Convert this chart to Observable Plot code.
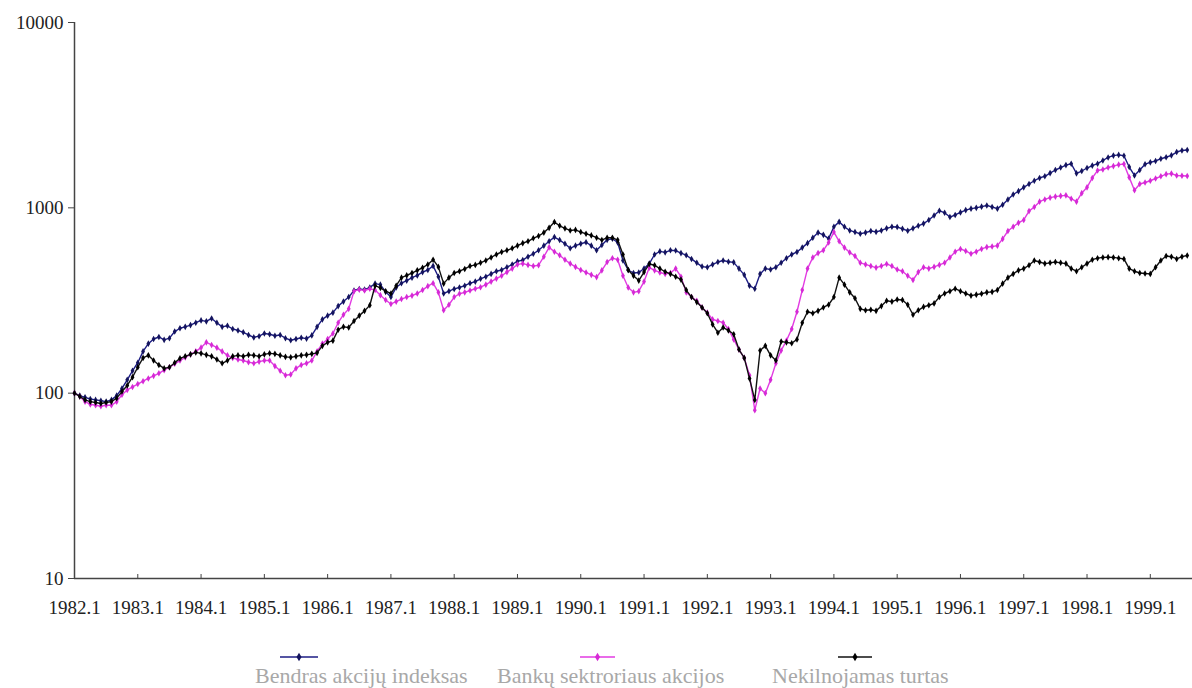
<!DOCTYPE html>
<html><head><meta charset="utf-8">
<script src="https://cdn.jsdelivr.net/npm/d3@7"></script>
<script src="https://cdn.jsdelivr.net/npm/@observablehq/plot@0.6"></script>
<style>
body{margin:0;background:#fff;}
#wrap{position:relative;width:1192px;height:688px;font-family:"Liberation Serif","Times New Roman",serif;overflow:hidden;}
#legend{position:absolute;left:0;top:630px;}
</style></head><body><div id="wrap"><div id="chart"></div><div id="legend"></div></div>
<script>
// ---- data (monthly, starting 1982.1) ----
const startYear = 1982;
const yearLabels = ["1982.1","1983.1","1984.1","1985.1","1986.1","1987.1","1988.1","1989.1","1990.1","1991.1","1992.1","1993.1","1994.1","1995.1","1996.1","1997.1","1998.1","1999.1"];
const yTicks = [10, 100, 1000, 10000];
const seriesNames = ["Bendras akcijų indeksas", "Bankų sektroriaus akcijos", "Nekilnojamas turtas"];
const seriesColors = ["#1c1c84", "#e23be2", "#111111"];
const markerColors = ["#14145e", "#d62ad6", "#000000"];

const bendras = [100,97,95,93,92,91,90,92,97,106,
118,132,146,168,185,196,201,194,198,215,
224,228,233,240,247,244,253,240,228,231,
222,218,213,206,200,203,210,208,204,206,
198,193,196,199,197,205,228,250,262,272,
295,312,330,358,365,362,372,390,385,352,
330,372,392,405,420,432,450,462,486,425,
345,355,365,372,380,392,400,414,425,440,
455,462,478,495,515,522,545,565,590,625,
660,695,670,640,605,625,640,652,625,590,
630,672,681,650,520,462,445,448,470,500,
560,582,575,590,588,570,555,530,505,482,
478,495,510,520,512,508,470,435,380,366,
440,470,465,478,505,535,560,578,610,645,
690,735,715,682,790,840,790,755,740,725,
735,750,742,755,775,790,788,770,752,775,
800,822,860,910,965,940,892,915,945,972,
990,1000,1015,1030,1010,990,1040,1110,1180,1230,
1290,1345,1400,1450,1480,1540,1600,1650,1700,1730,
1535,1580,1640,1690,1730,1800,1870,1914,1930,1910,
1660,1495,1600,1720,1760,1790,1840,1875,1920,2000,
2040,2050];

const bankai = [100,96,90,87,86,85,86,86,90,98,
104,108,112,116,120,124,128,133,138,144,
150,156,162,168,176,188,182,176,168,160,
155,152,150,147,145,148,150,150,140,132,
125,126,136,142,145,150,168,185,196,210,
240,265,285,355,362,358,366,360,338,318,
303,312,322,330,336,345,360,378,392,350,
280,300,330,344,350,358,366,373,385,400,
415,430,450,470,495,500,492,485,490,545,
612,580,555,525,500,480,462,448,435,423,
460,510,535,525,430,372,350,355,400,476,
460,448,440,445,470,425,350,330,315,290,
272,250,245,240,222,195,172,155,125,81,
106,100,118,145,170,192,222,275,360,470,
540,570,590,650,740,660,610,574,550,505,
495,485,476,485,498,485,465,455,430,408,
450,478,470,480,492,505,540,580,600,585,
565,580,600,614,618,625,680,750,790,830,
860,960,1010,1080,1110,1135,1150,1160,1168,1120,
1080,1200,1290,1450,1590,1610,1650,1680,1710,1725,
1460,1245,1345,1370,1400,1440,1480,1520,1530,1495,
1490,1485];

const nekilnojamas = [100,96,92,90,89,88,89,90,94,102,
110,122,138,155,160,150,142,136,138,146,
154,158,162,166,164,161,158,152,145,150,
158,160,158,161,160,158,162,164,163,160,
157,156,158,160,161,163,165,180,188,192,
220,228,226,245,262,278,298,380,370,355,
345,380,420,432,445,460,475,495,525,480,
390,420,445,455,468,485,492,505,520,540,
560,578,590,605,625,645,660,685,705,735,
780,838,800,775,755,760,740,725,710,690,
670,690,690,670,560,462,430,405,450,498,
490,470,452,440,425,410,360,330,310,290,
270,235,212,226,218,208,172,155,120,92,
170,180,160,150,190,188,186,195,240,275,
270,278,290,300,330,420,385,350,325,285,
280,282,278,295,315,312,320,318,300,265,
280,292,298,305,330,345,355,366,355,345,
336,340,344,350,352,360,390,420,440,460,
470,490,520,510,500,505,510,505,500,470,
455,478,500,525,535,540,542,540,535,530,
470,455,445,442,440,478,520,550,545,530,
545,553];

// ---- build table ----
const seriesValues = [bendras, bankai, nekilnojamas];
const rows = seriesValues.map((vals, si) => vals.map((v, m) => ({m, v, s: seriesNames[si]})));
const tickMonths = yearLabels.map((_, i) => i * 12);
const monthsSpan = 212;

const marks = [
  Plot.ruleX([0], {stroke: "#444", strokeWidth: 1.5}),
  Plot.ruleY([10], {stroke: "#444", strokeWidth: 1.5}),
  Plot.axisY({ticks: yTicks, tickFormat: d => String(d), tickSize: 6, tickPadding: 5, label: null, stroke: "#444", fill: "#222"}),
  Plot.axisX({ticks: tickMonths, tickFormat: d => yearLabels[tickMonths.indexOf(d)], tickSize: -4, tickPadding: 26, label: null, stroke: "#444", fill: "#222"})
];
rows.forEach((r, si) => {
  marks.push(Plot.line(r, {x: "m", y: "v", stroke: seriesColors[si], strokeWidth: 1.4}));
  marks.push(Plot.dot(r, {x: "m", y: "v", fill: markerColors[si], symbol: "diamond", r: 2}));
});

const chart = Plot.plot({
  width: 1192, height: 630,
  marginLeft: 74, marginRight: 0, marginTop: 22, marginBottom: 52,
  style: {fontFamily: '"Liberation Serif","Times New Roman",serif', fontSize: "19px", background: "#fff", overflow: "visible"},
  x: {domain: [0, monthsSpan], label: null},
  y: {type: "log", domain: [10, 10000], label: null},
  marks
});
document.getElementById("chart").appendChild(chart);

// ---- legend ----
const legendLayout = [
  {tx: 255, x1: 280, x2: 318},
  {tx: 497, x1: 580, x2: 615},
  {tx: 772, x1: 838, x2: 872}
];
const svg = d3.select("#legend").append("svg").attr("width", 1192).attr("height", 58);
seriesNames.forEach((name, i) => {
  const L = legendLayout[i];
  svg.append("line").attr("x1", L.x1).attr("x2", L.x2).attr("y1", 27).attr("y2", 27)
    .attr("stroke", seriesColors[i]).attr("stroke-width", 1.6);
  const cx = (L.x1 + L.x2) / 2;
  svg.append("path").attr("d", d3.symbol(d3.symbolDiamond, 22)()).attr("transform", `translate(${cx},27)`)
    .attr("fill", markerColors[i]);
  svg.append("text").attr("x", L.tx).attr("y", 53).attr("font-size", 22)
    .attr("font-family", '"Liberation Serif","Times New Roman",serif').attr("fill", "#a8a8a8").text(name);
});
</script>
</body></html>
